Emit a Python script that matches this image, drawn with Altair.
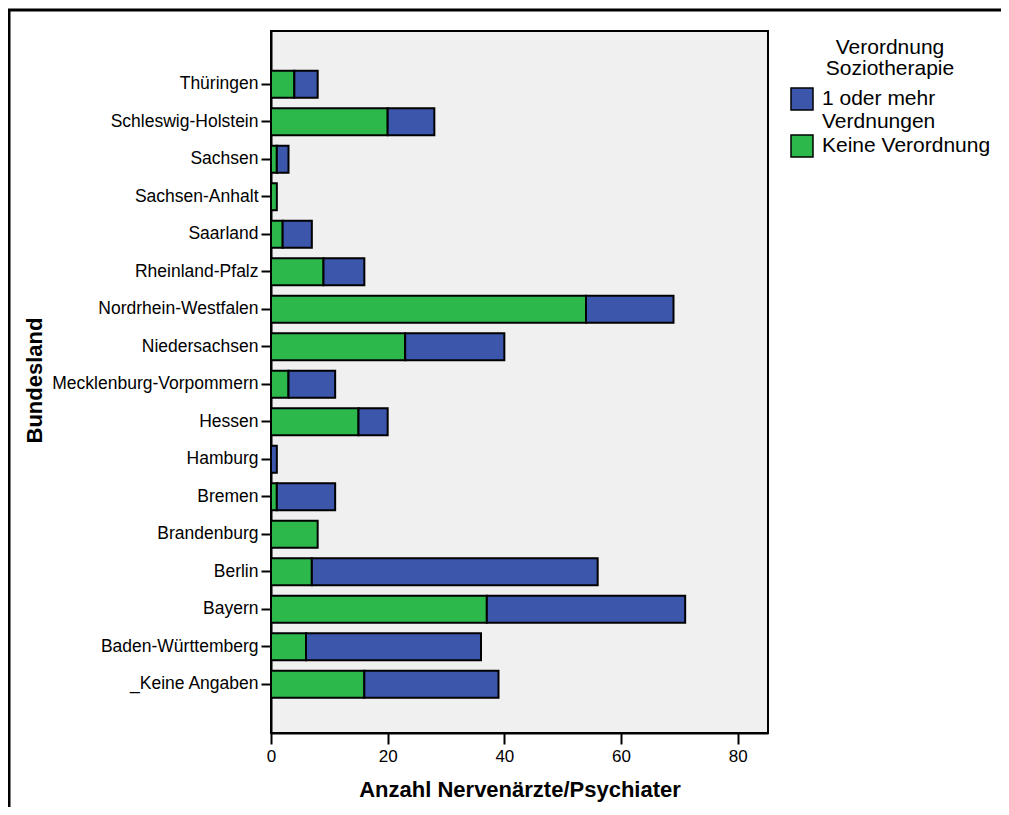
import altair as alt
import pandas as pd

states = ["Thüringen", "Schleswig-Holstein", "Sachsen", "Sachsen-Anhalt", "Saarland",
          "Rheinland-Pfalz", "Nordrhein-Westfalen", "Niedersachsen", "Mecklenburg-Vorpommern",
          "Hessen", "Hamburg", "Bremen", "Brandenburg", "Berlin", "Bayern",
          "Baden-Württemberg", "_Keine Angaben"]
keine = [4, 20, 1, 1, 2, 9, 54, 23, 3, 15, 0, 1, 8, 7, 37, 6, 16]
mehr = [4, 8, 2, 0, 5, 7, 15, 17, 8, 5, 1, 10, 0, 49, 34, 30, 23]

cat_mehr = "1 oder mehr Verdnungen"
cat_keine = "Keine Verordnung"
categories = [cat_mehr, cat_keine]
colors = ["#3c56ac", "#2db84b"]
x_ticks = [0, 20, 40, 60, 80]
x_max = 85.2

rows = []
for s, k, m in zip(states, keine, mehr):
    if k > 0:
        rows.append({"Bundesland": s, "Verordnung": cat_keine, "Anzahl": k, "ord": 0})
    if m > 0:
        rows.append({"Bundesland": s, "Verordnung": cat_mehr, "Anzahl": m, "ord": 1})
df = pd.DataFrame(rows)

FONT = "Liberation Sans"

x_enc = alt.X("Anzahl:Q", stack="zero",
              scale=alt.Scale(domain=[0, x_max], nice=False, zero=True),
              axis=alt.Axis(values=x_ticks, title="Anzahl Nervenärzte/Psychiater", grid=False,
                            tickSize=11, tickWidth=2, tickColor="black", labelPadding=4,
                            labelFontSize=17, labelColor="black", labelFlush=False,
                            titleFontSize=22, titleFontWeight="bold", titleColor="black",
                            titlePadding=15, domainColor="black", domainWidth=2))
y_enc = alt.Y("Bundesland:N", sort=states,
              scale=alt.Scale(paddingInner=0.28, paddingOuter=1.0, align=0.53),
              axis=alt.Axis(title="Bundesland", tickSize=10, tickWidth=2, tickColor="black",
                            labelPadding=3, labelFontSize=17.5, labelColor="black",
                            labelLimit=400, titleFontSize=22, titleFontWeight="bold",
                            titleColor="black", titleX=-237, titleY=349,
                            titleBaseline="middle", titleAlign="center", titleAngle=270,
                            domainColor="black", domainWidth=2))

legend = alt.Legend(
    title=["Verordnung", "Soziotherapie"], orient="none",
    legendX=519, legendY=6, padding=0,
    titleFontSize=21, titleFontWeight="normal", titleColor="black",
    titleAnchor="middle", titleAlign="center", titleLineHeight=21,
    titlePadding=8, labelFontSize=21, labelColor="black",
    labelLimit=400, labelOffset=8,
    labelExpr="datum.label == '1 oder mehr Verdnungen' ? ['1 oder mehr', 'Verdnungen'] : datum.label",
    symbolType="square", symbolSize=484, symbolStrokeColor="black",
    symbolStrokeWidth=1.5, symbolOpacity=1, rowPadding=0)

bars = alt.Chart(df).mark_bar(stroke="black", strokeWidth=2).encode(
    x=x_enc,
    y=y_enc,
    color=alt.Color("Verordnung:N", scale=alt.Scale(domain=categories, range=colors),
                    legend=legend),
    order=alt.Order("ord:Q"),
)

frame_df = pd.DataFrame({"k": [0]})
top_line = alt.Chart(frame_df).mark_rule(color="black", strokeWidth=3).encode(
    x=alt.value(-263), x2=alt.value(760), y=alt.value(-21))
left_line = alt.Chart(frame_df).mark_rule(color="black", strokeWidth=3).encode(
    x=alt.value(-262), y=alt.value(-22), y2=alt.value(790))

chart = alt.layer(bars, top_line, left_line).properties(
    width=497, height=702,
    autosize=alt.AutoSizeParams(type="none"),
    padding={"left": 263, "top": 23, "right": 233, "bottom": 74},
    background="white",
).configure(
    font=FONT
).configure_view(
    fill="#f0f0f0", stroke="black", strokeWidth=2
)

chart.save("out.html", embed_options={"renderer": "svg", "actions": False})
